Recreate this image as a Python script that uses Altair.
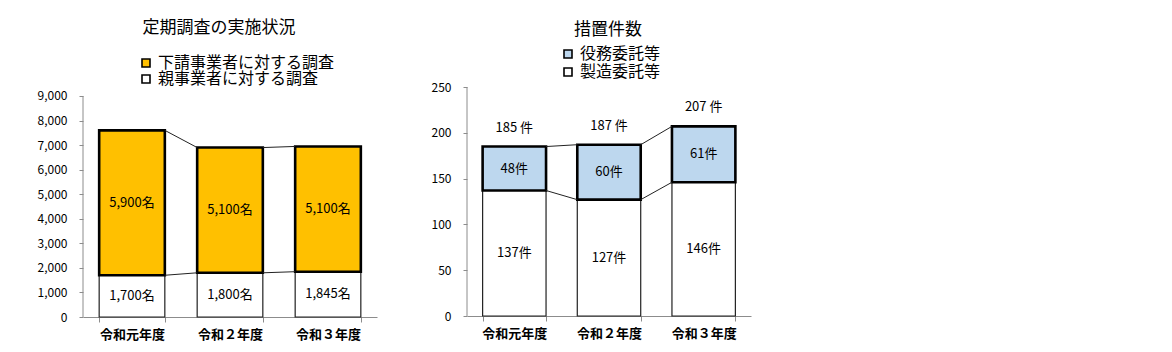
import altair as alt
import pandas as pd

FONT = "Noto Sans CJK JP"

years = ["令和元年度", "令和２年度", "令和３年度"]

# ---- left chart: 定期調査の実施状況 ----
survey_title = "定期調査の実施状況"
survey_series = ["下請事業者に対する調査", "親事業者に対する調査"]
survey_parent = [1700, 1800, 1845]
survey_sub = [5900, 5100, 5100]
survey_parent_labels = ["1,700名", "1,800名", "1,845名"]
survey_sub_labels = ["5,900名", "5,100名", "5,100名"]
survey_ticks = [0, 1000, 2000, 3000, 4000, 5000, 6000, 7000, 8000, 9000]
survey_axis_max = 9000

# ---- right chart: 措置件数 ----
measure_title = "措置件数"
measure_series = ["役務委託等", "製造委託等"]
measure_manu = [137, 127, 146]
measure_service = [48, 60, 61]
measure_manu_labels = ["137件", "127件", "146件"]
measure_service_labels = ["48件", "60件", "61件"]
measure_total_labels = ["185 件", "187 件", "207 件"]
measure_ticks = [0, 50, 100, 150, 200, 250]
measure_axis_max = 250

AXIS_GRAY = "#8c8c8c"


def build_frames(bottom, top, bottom_name, top_name, bottom_labels, top_labels):
    rows = []
    for i, yr in enumerate(years):
        b, t = bottom[i], top[i]
        rows.append(dict(year=yr, series=bottom_name, part="bottom", start=0, end=b,
                         mid=b / 2, label=bottom_labels[i], total=b + t))
        rows.append(dict(year=yr, series=top_name, part="top", start=b, end=b + t,
                         mid=b + t / 2, label=top_labels[i], total=b + t))
    links = []
    for i in range(len(years) - 1):
        links.append(dict(src=years[i], dst=years[i + 1], ya=bottom[i], yb=bottom[i + 1]))
        links.append(dict(src=years[i], dst=years[i + 1],
                          ya=bottom[i] + top[i], yb=bottom[i + 1] + top[i + 1]))
    return pd.DataFrame(rows), pd.DataFrame(links)


def make_panel(df, links, series, colors, ydomain, axis_max, yticks, yfmt, width, height,
               title, title_offset, title_dx, legend_x, legend_y, legend_row_pad,
               legend_font, totals=None):
    xscale = alt.Scale(domain=years, paddingInner=0.33, paddingOuter=0.165)
    yscale = alt.Scale(domain=ydomain, nice=False)
    xaxis = alt.Axis(title=None, labelAngle=0, tickBand="extent", domainColor=AXIS_GRAY,
                     tickColor=AXIS_GRAY, tickSize=5, labelFont=FONT, labelFontSize=13,
                     labelFontWeight="bold", labelColor="black", labelPadding=6)
    yaxis = alt.Axis(title=None, values=yticks, format=yfmt, grid=False, domain=False,
                     tickColor=AXIS_GRAY, tickSize=4,
                     labelFont=FONT, labelFontSize=12, labelColor="black", labelPadding=12)
    legend = alt.Legend(title=None, orient="none", legendX=legend_x, legendY=legend_y,
                        symbolType="square", symbolSize=64, symbolStrokeColor="black",
                        symbolStrokeWidth=1.6, labelFont=FONT, labelFontSize=legend_font,
                        labelColor="black", rowPadding=legend_row_pad, padding=0,
                        labelOffset=4, labelLimit=0)
    color = alt.Color("series:N", scale=alt.Scale(domain=series, range=colors),
                      legend=legend)
    base = alt.Chart(df)
    x = alt.X("year:N", scale=xscale, axis=xaxis, sort=years)
    axis_df = pd.DataFrame(dict(lo=[0], hi=[axis_max]))
    yline = alt.Chart(axis_df).mark_rule(color=AXIS_GRAY, strokeWidth=1).encode(
        x=alt.value(0), y=alt.Y("lo:Q", scale=yscale, axis=yaxis), y2="hi:Q")
    bottom = base.transform_filter(alt.datum.part == "bottom").mark_bar(
        stroke="#222222", strokeWidth=1.2).encode(
        x=x, y=alt.Y("start:Q", scale=yscale, axis=yaxis), y2="end:Q", color=color)
    top = base.transform_filter(alt.datum.part == "top").mark_bar(
        stroke="black", strokeWidth=2.6).encode(
        x=x, y=alt.Y("start:Q", scale=yscale, axis=yaxis), y2="end:Q", color=color)
    link = alt.Chart(links).mark_rule(color="#222222", strokeWidth=1).encode(
        x=alt.X("src:N", scale=xscale, axis=xaxis, bandPosition=1, sort=years),
        x2=alt.X2("dst:N", bandPosition=0),
        y=alt.Y("ya:Q", scale=yscale, axis=yaxis), y2="yb:Q")
    text = base.mark_text(font=FONT, fontSize=13, color="black").encode(
        x=x, y=alt.Y("mid:Q", scale=yscale, axis=yaxis), text="label:N")
    layers = [bottom, top, link, text, yline]
    if totals is not None:
        tdf = pd.DataFrame(dict(year=years, total=totals[0], label=totals[1]))
        tot = alt.Chart(tdf).mark_text(font=FONT, fontSize=13, color="black", dy=-19).encode(
            x=x, y=alt.Y("total:Q", scale=yscale, axis=yaxis), text="label:N")
        layers.append(tot)
    return alt.layer(*layers).properties(
        width=width, height=height,
        title=alt.TitleParams(title, font=FONT, fontSize=17, fontWeight="normal",
                              color="black", anchor="middle", frame="group",
                              offset=title_offset, dx=title_dx))


ldf, llinks = build_frames(survey_parent, survey_sub, survey_series[1], survey_series[0],
                           survey_parent_labels, survey_sub_labels)
rdf, rlinks = build_frames(measure_manu, measure_service, measure_series[1], measure_series[0],
                           measure_manu_labels, measure_service_labels)

left = make_panel(ldf, llinks, survey_series, ["#FFC000", "#FFFFFF"], [0, 9366],
                  survey_axis_max, survey_ticks, ",d", 294, 230, survey_title, 18, -11,
                  55, -32, 0, 16)
right = make_panel(rdf, rlinks, measure_series, ["#BDD7EE", "#FFFFFF"], [0, 250],
                   measure_axis_max, measure_ticks, "d", 284, 229, measure_title, 7, -1,
                   93, -41, 2, 16,
                   totals=([a + b for a, b in zip(measure_manu, measure_service)],
                           measure_total_labels))

chart = alt.hconcat(left, right, spacing=54).resolve_scale(color="independent").properties(
    padding={"left": 37, "top": 19, "right": 5, "bottom": 5}, background="white"
).configure_view(stroke="transparent", strokeWidth=0)

chart.save("out.html", embed_options={"renderer": "svg", "actions": False})
